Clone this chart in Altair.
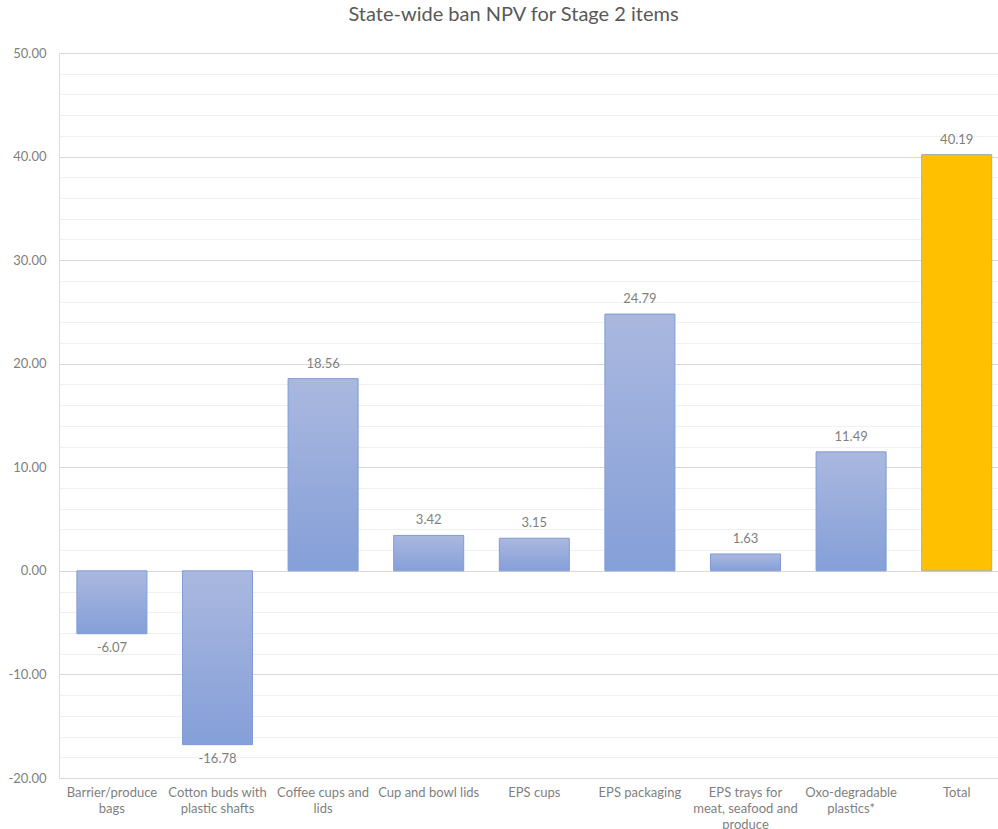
import altair as alt
import pandas as pd

categories = [
    "Barrier/produce bags",
    "Cotton buds with plastic shafts",
    "Coffee cups and lids",
    "Cup and bowl lids",
    "EPS cups",
    "EPS packaging",
    "EPS trays for meat, seafood and produce",
    "Oxo-degradable plastics*",
    "Total",
]
values = [-6.07, -16.78, 18.56, 3.42, 3.15, 24.79, 1.63, 11.49, 40.19]
wrapped = [
    ["Barrier/produce", "bags"],
    ["Cotton buds with", "plastic shafts"],
    ["Coffee cups and", "lids"],
    ["Cup and bowl lids"],
    ["EPS cups"],
    ["EPS packaging"],
    ["EPS trays for", "meat, seafood and", "produce"],
    ["Oxo-degradable", "plastics*"],
    ["Total"],
]
grid_ticks = list(range(-20, 51, 2))

FONT = "Lato"
LABEL_COLOR = "#7f7f7f"
df = pd.DataFrame({"category": categories, "value": values})

label_expr = "{" + ",".join(
    '"%s": [%s]' % (c, ",".join('"%s"' % s for s in w)) for c, w in zip(categories, wrapped)
) + "}[datum.label]"

yscale = alt.Scale(domain=[-20, 50], nice=False, zero=False)
xscale = alt.Scale(paddingInner=0.337, paddingOuter=0.1145, align=0.74)

x_axis = alt.Axis(
    title=None, domain=False, ticks=False, grid=False, labelAngle=0,
    labelExpr=label_expr, labelFont=FONT, labelFontSize=13,
    labelColor=LABEL_COLOR, labelPadding=8, labelLineHeight=16,
    labelBaseline="top",
)
y_axis = alt.Axis(
    title=None, values=grid_ticks, format=".2f", domain=False,
    ticks=False, labelFont=FONT, labelFontSize=13,
    labelColor=LABEL_COLOR, labelPadding=13,
    labelExpr="datum.value % 10 === 0 ? replace(datum.label, '\u2212', '-') : ''",
    grid=True,
    gridColor={"condition": {"test": "datum.value % 10 === 0", "value": "#d9d9d9"},
               "value": "#f0f0f0"},
    gridWidth=1,
)

x_enc = alt.X("category:N", sort=categories, scale=xscale, axis=x_axis)
y_enc = alt.Y("value:Q", scale=yscale, axis=y_axis)

grad = alt.Gradient(
    gradient="linear",
    stops=[alt.GradientStop(color="#aab8df", offset=0),
           alt.GradientStop(color="#859fd8", offset=1)],
    x1=0, x2=0, y1=0, y2=1,
)

base = alt.Chart(df).transform_calculate(
    lbl="replace(format(datum.value, '.2f'), '\u2212', '-')"
)

bars = base.transform_filter(alt.datum.category != "Total").mark_bar(
    color=grad, stroke="#7f9bd5", strokeWidth=1
).encode(x=x_enc, y=y_enc)

total = base.transform_filter(alt.datum.category == "Total").mark_bar(
    color="#ffc000", stroke="#a3abbb", strokeWidth=1
).encode(x=x_enc, y=y_enc)

pos_text = base.transform_filter(alt.datum.value >= 0).mark_text(
    baseline="bottom", dy=-8, font=FONT, fontSize=13, color=LABEL_COLOR
).encode(x=x_enc, y=y_enc, text="lbl:N")

neg_text = base.transform_filter(alt.datum.value < 0).mark_text(
    baseline="top", dy=8, font=FONT, fontSize=13, color=LABEL_COLOR
).encode(x=x_enc, y=y_enc, text="lbl:N")

chart = alt.layer(bars, total, pos_text, neg_text).properties(
    width=939,
    height=725,
    autosize=alt.AutoSizeParams(type="none"),
    padding={"left": 59, "top": 53, "right": 0, "bottom": 51},
    title=alt.TitleParams(
        "State-wide ban NPV for Stage 2 items",
        font=FONT, fontSize=20, fontWeight="normal", color="#595959",
        anchor="middle", offset=22, dx=-15,
    ),
).configure_view(stroke="transparent", strokeWidth=0).configure(background="white")

chart.save("out.html", embed_options={"renderer": "svg", "actions": False})
